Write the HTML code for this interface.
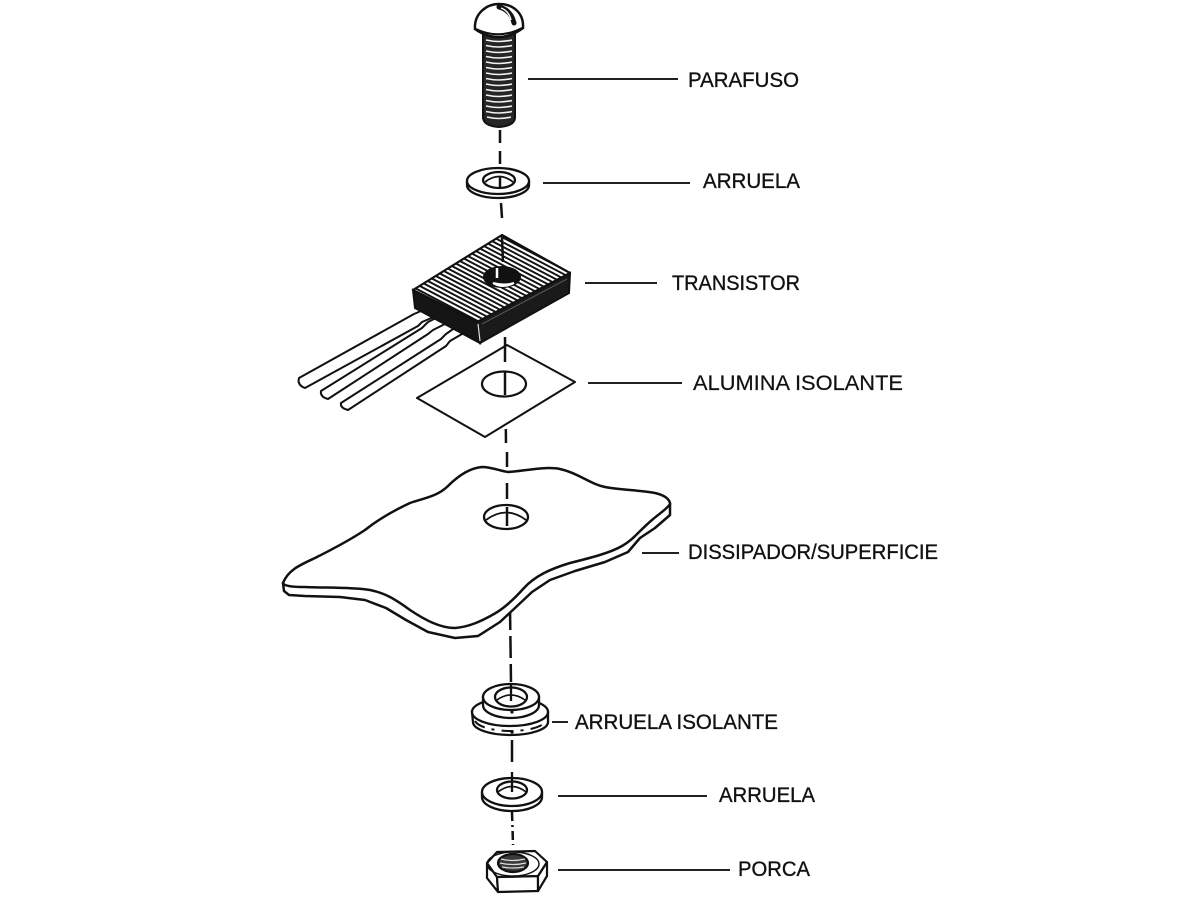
<!DOCTYPE html>
<html>
<head>
<meta charset="utf-8">
<style>
  html,body{margin:0;padding:0;background:#fff;}
  svg{display:block;}
  text{font-family:"Liberation Sans",Arial,sans-serif;font-size:21.5px;fill:#111;stroke:#111;stroke-width:0.35;}
</style>
</head>
<body>
<svg width="1192" height="900" viewBox="0 0 1192 900" xmlns="http://www.w3.org/2000/svg">
  <rect width="1192" height="900" fill="#fff"/>
  <defs>
    <clipPath id="topface">
      <polygon points="413,290 502,235 570,273 477,322"/>
    </clipPath>
    <clipPath id="shank">
      <path d="M483,33 L483,118 Q484,126 499,127 Q514,126 515,118 L515,33 Z"/>
    </clipPath>
  </defs>

  <!-- centre (dashed) axis -->
  <g stroke="#111" stroke-width="2.5" fill="none">
    <line x1="500" y1="130" x2="500" y2="165" stroke-dasharray="13 8"/>
    <line x1="501" y1="203" x2="502" y2="218"/>
    <line x1="505" y1="337" x2="506" y2="445" stroke-dasharray="14 9"/>
    <line x1="507" y1="452" x2="507" y2="500" stroke-dasharray="15 10"/>
    <line x1="510" y1="608" x2="511" y2="682" stroke-dasharray="22 6"/>
    <line x1="512" y1="740" x2="512" y2="762"/>
    <line x1="512" y1="812" x2="513" y2="845" stroke-dasharray="9 4 2 4"/>
  </g>

  <!-- SCREW -->
  <g>
    <path d="M483,33 L483,118 Q484,126 499,127 Q514,126 515,118 L515,33 Z" fill="#262626" stroke="#111" stroke-width="2"/>
    <g clip-path="url(#shank)" stroke="#f2f2f2" stroke-width="1.6" fill="none">
      <path d="M486,40 Q499,43 512,40"/>
      <path d="M486,45.5 Q499,48.5 512,45.5"/>
      <path d="M486,51 Q499,54 512,51"/>
      <path d="M486,56.5 Q499,59.5 512,56.5"/>
      <path d="M486,62 Q499,65 512,62"/>
      <path d="M486,67.5 Q499,70.5 512,67.5"/>
      <path d="M486,73 Q499,76 512,73"/>
      <path d="M486,78.5 Q499,81.5 512,78.5"/>
      <path d="M486,84 Q499,87 512,84"/>
      <path d="M486,89.5 Q499,92.5 512,89.5"/>
      <path d="M486,95 Q499,98 512,95"/>
      <path d="M486,100.5 Q499,103.5 512,100.5"/>
      <path d="M486,106 Q499,109 512,106"/>
      <path d="M486,111.5 Q499,114.5 512,111.5"/>
      <path d="M487,117 Q499,120 511,117"/>
    </g>
    <path d="M475,29 C474,13 487,4 499,4 C512,4 524,12 523,28 Q511,37 499,37 Q486,37 475,29 Z" fill="#fff" stroke="#111" stroke-width="2.5"/>
    <path d="M476,29 Q499,40 522,28" fill="none" stroke="#111" stroke-width="2"/>
    <path d="M499,7 Q511,10 514,23" fill="none" stroke="#111" stroke-width="5" stroke-linecap="round"/>
    <path d="M501,8 Q509,11 511,20" fill="none" stroke="#fff" stroke-width="1.4"/>
  </g>
  <line x1="528" y1="79" x2="678" y2="79" stroke="#222" stroke-width="2"/>
  <text x="688" y="87" textLength="111" lengthAdjust="spacingAndGlyphs">PARAFUSO</text>

  <!-- WASHER 1 -->
  <g stroke="#111" stroke-width="2.3">
    <path d="M467,181 L467,185 A31,13 0 0 0 529,185 L529,181" fill="#fff"/>
    <ellipse cx="498" cy="181" rx="31" ry="13" fill="#fff"/>
    <ellipse cx="499" cy="180" rx="16" ry="8" fill="#fff"/>
    <path d="M485,182 Q499,171 513,182" fill="none" stroke-width="1.8"/>
    <line x1="500" y1="176" x2="500" y2="187" stroke-width="2.5"/>
  </g>
  <line x1="543" y1="183" x2="690" y2="183" stroke="#222" stroke-width="2"/>
  <text x="703" y="188" textLength="97" lengthAdjust="spacingAndGlyphs">ARRUELA</text>

  <!-- TRANSISTOR leads -->
  <g fill="#fff" stroke="#111" stroke-width="2" stroke-linejoin="round">
    <path d="M299,378 L414,314 L428,308 L436,316 L422,322 L418,326 L305,388 Q297,385 299,378 Z"/>
    <path d="M321,391 L422,328 L428,322 L438,317 L445,324 L433,330 L428,334 L328,399 Q320,397 321,391 Z"/>
    <path d="M341,403 L441,339 L446,334 L456,327 L462,334 L450,341 L446,346 L348,410 Q340,408 341,403 Z"/>
  </g>
  <!-- TRANSISTOR body -->
  <polygon points="413,290 477,322 480,343 415,308" fill="#151515" stroke="#111" stroke-width="2"/>
  <polygon points="477,322 570,273 569,293 480,343" fill="#1a1a1a" stroke="#111" stroke-width="2"/>
  <line x1="478" y1="324" x2="480" y2="341" stroke="#ddd" stroke-width="1.2"/>
  <line x1="482" y1="324" x2="567" y2="279" stroke="#666" stroke-width="0.8"/>
  <polygon points="413,290 502,235 570,273 477,322" fill="#fff"/>
  <g clip-path="url(#topface)" stroke="#111" stroke-width="1.9">
    <line x1="405" y1="292" x2="485" y2="334"/>
    <line x1="409" y1="289.5" x2="489" y2="331.5"/>
    <line x1="413" y1="287" x2="493" y2="329"/>
    <line x1="417" y1="284.5" x2="497" y2="326.5"/>
    <line x1="421" y1="282" x2="501" y2="324"/>
    <line x1="425" y1="279.5" x2="505" y2="321.5"/>
    <line x1="429" y1="277" x2="509" y2="319"/>
    <line x1="433" y1="274.5" x2="513" y2="316.5"/>
    <line x1="437" y1="272" x2="517" y2="314"/>
    <line x1="441" y1="269.5" x2="521" y2="311.5"/>
    <line x1="445" y1="267" x2="525" y2="309"/>
    <line x1="449" y1="264.5" x2="529" y2="306.5"/>
    <line x1="453" y1="262" x2="533" y2="304"/>
    <line x1="457" y1="259.5" x2="537" y2="301.5"/>
    <line x1="461" y1="257" x2="541" y2="299"/>
    <line x1="465" y1="254.5" x2="545" y2="296.5"/>
    <line x1="469" y1="252" x2="549" y2="294"/>
    <line x1="473" y1="249.5" x2="553" y2="291.5"/>
    <line x1="477" y1="247" x2="557" y2="289"/>
    <line x1="481" y1="244.5" x2="561" y2="286.5"/>
    <line x1="485" y1="242" x2="565" y2="284"/>
    <line x1="489" y1="239.5" x2="569" y2="281.5"/>
    <line x1="493" y1="237" x2="573" y2="279"/>
    <line x1="497" y1="234.5" x2="577" y2="276.5"/>
  </g>
  <polygon points="413,290 502,235 570,273 477,322" fill="none" stroke="#111" stroke-width="2.2" stroke-linejoin="round"/>
  <line x1="502" y1="238" x2="503" y2="262" stroke="#111" stroke-width="2.5"/>
  <ellipse cx="502" cy="277" rx="19" ry="11" fill="#111"/>
  <path d="M493,283 Q503,289 514,283 Q504,286 493,283 Z" fill="#fff" stroke="#fff" stroke-width="2"/>
  <line x1="497" y1="268" x2="497" y2="278" stroke="#fff" stroke-width="2.5"/>
  <line x1="585" y1="283" x2="657" y2="283" stroke="#222" stroke-width="2"/>
  <text x="672" y="290" textLength="128" lengthAdjust="spacingAndGlyphs">TRANSISTOR</text>

  <!-- ALUMINA -->
  <polygon points="417,398 507,345 575,382 485,437" fill="#fff" stroke="#111" stroke-width="2" stroke-linejoin="round"/>
  <ellipse cx="504" cy="384" rx="22" ry="12.5" fill="#fff" stroke="#111" stroke-width="2.2"/>
  <line x1="505" y1="345" x2="505" y2="362" stroke="#111" stroke-width="2.5"/>
  <line x1="505" y1="372" x2="505" y2="395" stroke="#111" stroke-width="2.5"/>
  <line x1="588" y1="383" x2="682" y2="383" stroke="#222" stroke-width="2"/>
  <text x="693" y="390" textLength="210" lengthAdjust="spacingAndGlyphs" style="stroke-width:0.2">ALUMINA ISOLANTE</text>

  <!-- DISSIPATOR -->
  <g stroke="#111" stroke-width="2.5" stroke-linejoin="round" fill="#fff">
    <path d="M283,583 L284,591 L289,595 L305,596 L340,597 L365,600 L386,608 L406,620 L428,632 L455,638 L478,636 L500,622 L515,608 L532,592 L550,580 L575,571 L605,562 L628,552 L640,538 L655,528 L670,515 L670,503 L660,510 Z"/>
    <path d="M283,583 C288,570 300,565 315,558 C335,548 350,540 365,530 C380,518 395,510 410,503 C425,498 438,496 448,486 C458,476 470,468 482,467 C492,467 500,471 508,472 C525,471 545,466 560,469 C578,473 590,484 605,487 C620,490 640,490 655,493 C664,495 670,499 670,504 C667,509 660,513 652,520 C640,530 633,540 622,546 C610,553 590,558 570,563 C550,569 535,576 524,588 C515,598 505,608 494,614 C480,622 468,627 455,628 C440,628 425,620 410,610 C395,599 385,593 370,590 C350,587 325,588 305,587 C292,587 284,586 283,583 Z"/>
  </g>
  <ellipse cx="506" cy="517" rx="22" ry="12" fill="#fff" stroke="#111" stroke-width="2.3"/>
  <path d="M486,520 Q506,505 526,520" fill="none" stroke="#111" stroke-width="1.8"/>
  <line x1="507" y1="507" x2="507" y2="526" stroke="#111" stroke-width="2.5"/>
  <line x1="507" y1="483" x2="507" y2="499" stroke="#111" stroke-width="2.5"/>
  <line x1="642" y1="553" x2="679" y2="553" stroke="#222" stroke-width="2"/>
  <text x="688" y="559" textLength="250" lengthAdjust="spacingAndGlyphs">DISSIPADOR/SUPERFICIE</text>

  <!-- INSULATING WASHER -->
  <g stroke="#111" stroke-width="2.3" fill="#fff">
    <!-- flange -->
    <path d="M472,712 L473,722 A37.5,13 0 0 0 548,722 L548,712 Z"/>
    <ellipse cx="510" cy="712" rx="38" ry="14"/>
    <path d="M475,721 A36,12 0 0 0 546,721" fill="none" stroke-width="2" stroke-dasharray="12 7 3 7"/>
    <!-- boss -->
    <path d="M483,697 L483,705 A28,13 0 0 0 539,705 L539,697 Z"/>
    <ellipse cx="511" cy="697" rx="28" ry="13"/>
    <ellipse cx="511" cy="697" rx="16" ry="9.5"/>
    <path d="M497,700 Q511,690 525,700" fill="none" stroke-width="1.6"/>
  </g>
  <line x1="511" y1="683" x2="511" y2="701" stroke="#111" stroke-width="2.3"/>
  <circle cx="512" cy="712" r="1.6" fill="#111"/>
  <circle cx="512" cy="732" r="1.7" fill="#111"/>
  <line x1="552" y1="722" x2="568" y2="722" stroke="#222" stroke-width="2"/>
  <text x="575" y="729" textLength="203" lengthAdjust="spacingAndGlyphs">ARRUELA ISOLANTE</text>

  <!-- WASHER 2 -->
  <g stroke="#111" stroke-width="2.3" fill="#fff">
    <path d="M482,792 L482,797 A30,14 0 0 0 542,797 L542,792"/>
    <ellipse cx="512" cy="792" rx="30" ry="14"/>
    <ellipse cx="512" cy="790" rx="15" ry="8.5"/>
    <path d="M498,792 Q512,781 526,792" fill="none" stroke-width="1.6"/>
  </g>
  <line x1="512" y1="772" x2="512" y2="792" stroke="#111" stroke-width="2.3"/>
  <line x1="558" y1="796" x2="707" y2="796" stroke="#222" stroke-width="2"/>
  <text x="719" y="802" textLength="96" lengthAdjust="spacingAndGlyphs">ARRUELA</text>

  <!-- NUT -->
  <g stroke="#111" stroke-width="2.2" stroke-linejoin="round" fill="#fff">
    <polygon points="487,863 497,877 498,892 487,878"/>
    <polygon points="497,877 538,876 538,891 498,892"/>
    <polygon points="538,876 547,862 547,876 538,891"/>
    <polygon points="487,863 497,852 535,851 547,862 538,876 497,877"/>
    <ellipse cx="513" cy="864" rx="26" ry="12" fill="none" stroke-width="1.4"/>
    <ellipse cx="513" cy="863" rx="15" ry="9" fill="#3a3a3a"/>
  </g>
  <g stroke="#ddd" stroke-width="1.2" fill="none">
    <path d="M501,859 Q513,862 525,859"/>
    <path d="M500,863 Q513,866 526,863"/>
    <path d="M502,867 Q513,869 524,867"/>
  </g>
  <line x1="558" y1="870" x2="730" y2="870" stroke="#222" stroke-width="2"/>
  <text x="738" y="876" textLength="72" lengthAdjust="spacingAndGlyphs">PORCA</text>
</svg>
</body>
</html>
